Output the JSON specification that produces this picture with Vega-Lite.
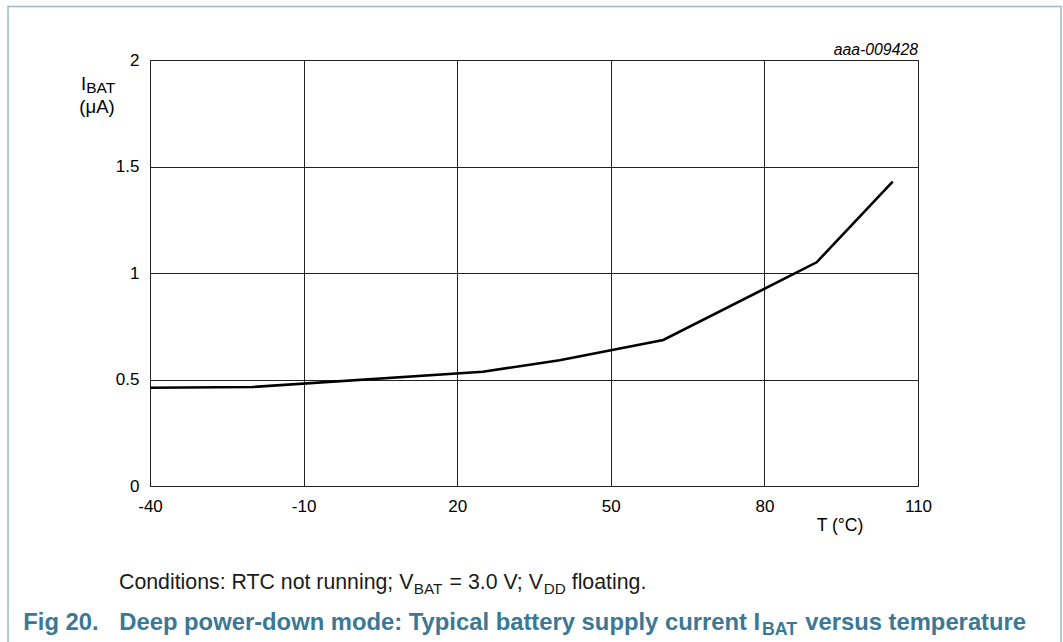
{
  "$schema": "https://vega.github.io/schema/vega-lite/v6.json",
  "autosize": {"type": "none"},
  "width": 768,
  "height": 426,
  "padding": {"left": 150, "top": 60, "right": 145, "bottom": 156},
  "background": "#ffffff",
  "config": {
    "view": {"stroke": "#222222", "strokeWidth": 1},
    "font": "Liberation Sans",
    "text": {"font": "Liberation Sans", "baseline": "alphabetic", "align": "left", "color": "#000000"}
  },
  "data": {"values": [
    {"T": -40, "I": 0.4615},
    {"T": -20, "I": 0.4648},
    {"T": 25, "I": 0.5366},
    {"T": 40, "I": 0.59},
    {"T": 60.25, "I": 0.6854},
    {"T": 90.2, "I": 1.0502},
    {"T": 105.06, "I": 1.4286}
  ]},
  "layer": [
    {
      "mark": {"type": "line", "color": "#000000", "strokeWidth": 2.6},
      "encoding": {
        "x": {"field": "T", "type": "quantitative",
              "scale": {"domain": [-40, 110], "nice": false, "zero": false},
              "axis": {"values": [-40, -10, 20, 50, 80, 110], "title": null, "grid": true, "gridColor": "#222222", "gridWidth": 1, "gridOpacity": 1,
                       "domain": false, "ticks": false, "labelPadding": 12.5, "labelFontSize": 17, "labelColor": "#000000",
                       "labelFont": "Liberation Sans", "labelExpr": "datum.value + ''", "labelFlush": false, "labelOverlap": false}},
        "y": {"field": "I", "type": "quantitative",
              "scale": {"domain": [0, 2], "nice": false, "zero": false},
              "axis": {"values": [0, 0.5, 1, 1.5, 2], "title": null, "grid": true, "gridColor": "#222222", "gridWidth": 1, "gridOpacity": 1,
                       "domain": false, "ticks": false, "labelPadding": 11, "labelFontSize": 17, "labelColor": "#000000",
                       "labelFont": "Liberation Sans", "format": "~g", "labelFlush": false, "labelOverlap": false}}
      }
    },
    {
      "data": {"values": [{}]},
      "mark": {"type": "rect", "fill": null, "filled": false, "stroke": "#9bb9cd", "strokeWidth": 1.5},
      "encoding": {
        "x": {"datum": -67.73, "scale": {"domain": [-40, 110], "nice": false, "zero": false}},
        "x2": {"datum": 137.93},
        "y": {"datum": 2.2512, "scale": {"domain": [0, 2], "nice": false, "zero": false}},
        "y2": {"datum": -0.817}
      }
    },
    {
      "data": {"values": [{}]},
      "mark": {"type": "text", "text": "aaa-009428", "align": "right", "fontStyle": "italic", "fontSize": 15.8},
      "encoding": {"x": {"datum": 110}, "y": {"datum": 2.0235}}
    },
    {
      "data": {"values": [{}]},
      "mark": {"type": "text", "text": "I", "fontSize": 18.5},
      "encoding": {"x": {"datum": -53.48}, "y": {"datum": 1.8592}}
    },
    {
      "data": {"values": [{}]},
      "mark": {"type": "text", "text": "BAT", "fontSize": 15.5, "dx": 5.2, "dy": 3.5},
      "encoding": {"x": {"datum": -53.48}, "y": {"datum": 1.8592}}
    },
    {
      "data": {"values": [{}]},
      "mark": {"type": "text", "text": "(μA)", "align": "center", "fontSize": 18.5},
      "encoding": {"x": {"datum": -50.35}, "y": {"datum": 1.7512}}
    },
    {
      "data": {"values": [{}]},
      "mark": {"type": "text", "text": "T (°C)", "align": "center", "fontSize": 17.5},
      "encoding": {"x": {"datum": 94.77}, "y": {"datum": -0.2113}}
    },
    {
      "data": {"values": [{}]},
      "mark": {"type": "text", "text": "Conditions: RTC not running; V", "fontSize": 21.3, "color": "#1a1a1a"},
      "encoding": {"x": {"datum": -46.05}, "y": {"datum": -0.4836}}
    },
    {
      "data": {"values": [{}]},
      "mark": {"type": "text", "text": "BAT", "fontSize": 15.3, "dx": 294.8, "dy": 4.5, "color": "#1a1a1a"},
      "encoding": {"x": {"datum": -46.05}, "y": {"datum": -0.4836}}
    },
    {
      "data": {"values": [{}]},
      "mark": {"type": "text", "text": "= 3.0 V; V", "fontSize": 21.3, "dx": 330.5, "color": "#1a1a1a"},
      "encoding": {"x": {"datum": -46.05}, "y": {"datum": -0.4836}}
    },
    {
      "data": {"values": [{}]},
      "mark": {"type": "text", "text": "DD", "fontSize": 15.3, "dx": 424.7, "dy": 4.5, "color": "#1a1a1a"},
      "encoding": {"x": {"datum": -46.05}, "y": {"datum": -0.4836}}
    },
    {
      "data": {"values": [{}]},
      "mark": {"type": "text", "text": "floating.", "fontSize": 21.3, "dx": 452.7, "color": "#1a1a1a"},
      "encoding": {"x": {"datum": -46.05}, "y": {"datum": -0.4836}}
    },
    {
      "data": {"values": [{}]},
      "mark": {"type": "text", "text": "Fig 20.", "fontSize": 23.8, "fontWeight": "bold", "color": "#3a7896"},
      "encoding": {"x": {"datum": -64.75}, "y": {"datum": -0.676}}
    },
    {
      "data": {"values": [{}]},
      "mark": {"type": "text", "text": "Deep power-down mode: Typical battery supply current I", "fontSize": 23.8, "fontWeight": "bold", "dx": 96, "color": "#3a7896"},
      "encoding": {"x": {"datum": -64.75}, "y": {"datum": -0.676}}
    },
    {
      "data": {"values": [{}]},
      "mark": {"type": "text", "text": "BAT", "fontSize": 17.8, "fontWeight": "bold", "dx": 738.7, "dy": 5, "color": "#3a7896"},
      "encoding": {"x": {"datum": -64.75}, "y": {"datum": -0.676}}
    },
    {
      "data": {"values": [{}]},
      "mark": {"type": "text", "text": "versus temperature", "fontSize": 23.8, "fontWeight": "bold", "dx": 781.9, "color": "#3a7896"},
      "encoding": {"x": {"datum": -64.75}, "y": {"datum": -0.676}}
    }
  ]
}
